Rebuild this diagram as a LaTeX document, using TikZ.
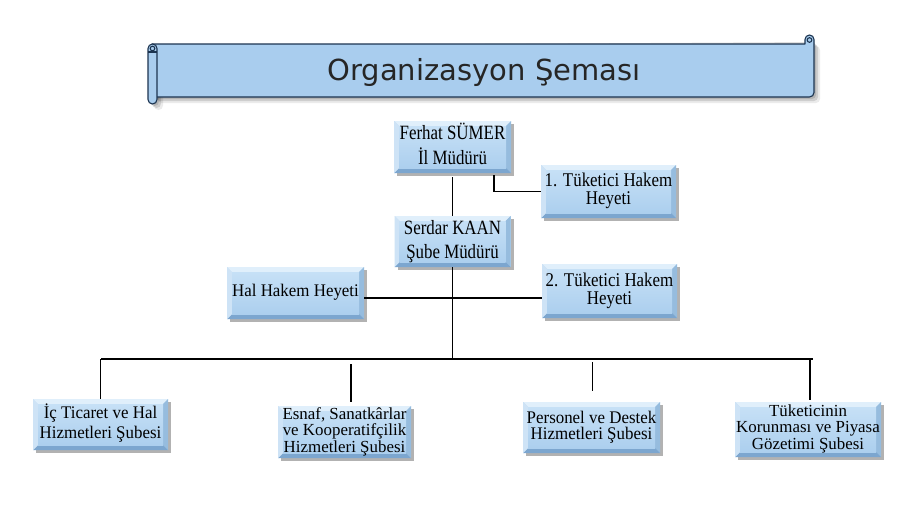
\documentclass[tikz,border=0pt]{standalone}
\usepackage{fontspec}
\setmainfont{Liberation Serif}
\newfontfamily\titlefont{DejaVu Sans}
\usepackage{graphicx}
\usetikzlibrary{calc,shadows}
\definecolor{bmid}{RGB}{184,214,240}
\definecolor{btop}{RGB}{224,239,251}
\definecolor{bleft}{RGB}{206,227,246}
\definecolor{bright}{RGB}{150,188,222}
\definecolor{bbot}{RGB}{124,166,207}
\definecolor{ctr1}{RGB}{198,224,246}
\definecolor{ctr2}{RGB}{172,207,238}
\definecolor{scrollfill}{RGB}{169,205,238}
\definecolor{scrolldraw}{RGB}{28,52,80}
\newcommand\btext[3]{\scalebox{1}[#1]{\fontsize{16.9}{#2}\selectfont\begin{tabular}{@{}c@{}}#3\end{tabular}}}
\tikzset{
  orgbox/.style={inner sep=0pt, fill=bmid,
    drop shadow={shadow xshift=3pt, shadow yshift=-3pt, opacity=0.3, fill=black},
    path picture={
      \path (path picture bounding box.north west) coordinate (pa)
            (path picture bounding box.north east) coordinate (pb)
            (path picture bounding box.south east) coordinate (pc)
            (path picture bounding box.south west) coordinate (pd);
      \path ($(pa)+(5pt,-5pt)$) coordinate (qa) ($(pb)+(-5pt,-5pt)$) coordinate (qb)
            ($(pc)+(-5pt,5pt)$) coordinate (qc) ($(pd)+(5pt,5pt)$) coordinate (qd);
      \fill[btop] (pa)--(pb)--(qb)--(qa)--cycle;
      \fill[bright] (pb)--(pc)--(qc)--(qb)--cycle;
      \fill[bbot] (pc)--(pd)--(qd)--(qc)--cycle;
      \fill[bleft] (pd)--(pa)--(qa)--(qd)--cycle;
      \shade[top color=ctr1,bottom color=ctr2] (qa) rectangle (qc);
    }},
  conn/.style={draw=black, line width=1.6pt},
  scroll/.style={fill=scrollfill, draw=scrolldraw, line width=1.1pt, line join=round}
}
\begin{document}
\begin{tikzpicture}[x=1pt,y=-1pt]
\fill[white] (0,0) rectangle (900,506);
\useasboundingbox (0,0) rectangle (900,506);
% banner shadow
\foreach \s/\o in {2/0.12,4/0.12,6/0.08}{
\fill[black,opacity=\o,rounded corners=4pt] (152+\s,44+\s) -- (814+\s,40+\s) -- (814+\s,97+\s) -- (152+\s,97+\s) -- cycle;
\fill[black,opacity=\o,rounded corners=4.5pt] (148+\s,44+\s) rectangle (157+\s,104+\s);
}
% banner body
\filldraw[scroll] (152,44) -- (805,44) -- (805,39.5) arc[start angle=180,end angle=0,radius=4.5pt] -- (814,92.5) arc[start angle=0,end angle=-90,radius=4.5pt] -- (152,97) -- cycle;
\filldraw[scroll] (809.5,40) circle[radius=2.3pt];
\filldraw[scroll, rounded corners=4.5pt] (148,44) rectangle (157,104);
\filldraw[scroll] (152.5,48.5) circle[radius=2.3pt];
\draw[scrolldraw, line width=1.1pt] (148,52) -- (157,52);
\node[font=\titlefont\fontsize{29}{32}\selectfont, text=black!85] (title) at (484,72) {Organizasyon Şeması};
% boxes
\node[orgbox, minimum width=117pt, minimum height=52pt] (ferhat) at (452.5,147) {\btext{1.2}{20.8}{Ferhat SÜMER\\İl Müdürü}};
\node[orgbox, minimum width=135pt, minimum height=53pt] (tk1) at (608.5,191.5) {\btext{1.15}{14.5}{1. Tüketici Hakem\\Heyeti}};
\node[orgbox, minimum width=116pt, minimum height=51pt] (serdar) at (452.5,241.5) {\btext{1.2}{20}{Serdar KAAN\\Şube Müdürü}};
\node[orgbox, minimum width=137pt, minimum height=52pt] (hal) at (295.5,293) {\btext{1.05}{18}{Hal Hakem Heyeti}};
\node[orgbox, minimum width=135pt, minimum height=54pt] (tk2) at (609.5,291) {\btext{1.15}{14.5}{2. Tüketici Hakem\\Heyeti}};
\node[orgbox, minimum width=135pt, minimum height=51pt] (ic) at (100.5,424.5) {\btext{1.05}{19}{İç Ticaret ve Hal\\Hizmetleri Şubesi}};
\node[orgbox, minimum width=133pt, minimum height=52pt] (esnaf) at (344.5,432) {\btext{1}{15}{Esnaf, Sanatkârlar\\ve Kooperatifçilik\\Hizmetleri Şubesi}};
\node[orgbox, minimum width=137pt, minimum height=51pt] (pers) at (591.5,427.5) {\btext{1.05}{14}{Personel ve Destek\\Hizmetleri Şubesi}};
\node[orgbox, minimum width=146pt, minimum height=55pt] (tuk) at (808,429.5) {\btext{1}{16}{Tüketicinin\\Korunması ve Piyasa\\Gözetimi Şubesi}};
% connectors
\coordinate (busL) at (101,359);
\coordinate (busR) at (813,359);
\coordinate (gapA) at (0,364);
\coordinate (gapB) at (0,362);
\draw[conn] (busL) -- (busR);
\draw[conn] ([yshift=-4pt]ferhat.south) -- (serdar.north);
\draw[conn] ([xshift=-17pt,yshift=-2pt]ferhat.south east) |- (tk1.west);
\draw[conn] (serdar.south) -- (serdar.south |- busL);
\draw[conn] ([yshift=-4.7pt]hal.east) -- ([yshift=-4.7pt]hal.east -| tk2.west);
\draw[conn] (ic.north) -- (ic.north |- busL);
\draw[conn] ([xshift=6.5pt,yshift=4pt]esnaf.north) -- ([xshift=6.5pt]esnaf.north |- gapA);
\draw[conn] ([xshift=1pt,yshift=11pt]pers.north) -- ([xshift=1pt]pers.north |- gapB);
\draw[conn] ([xshift=2pt,yshift=2pt]tuk.north) -- ([xshift=2pt]tuk.north |- busL);
\end{tikzpicture}
\end{document}
